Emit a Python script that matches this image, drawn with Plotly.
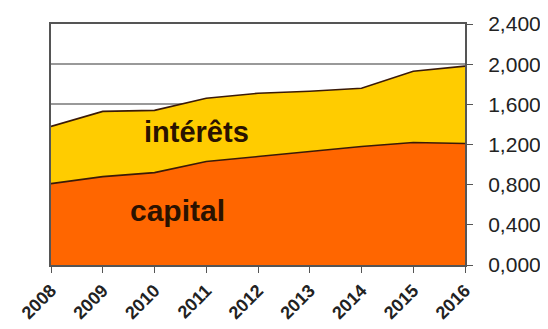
import plotly.graph_objects as go

years = ["2008", "2009", "2010", "2011", "2012", "2013", "2014", "2015", "2016"]
capital = [0.81, 0.88, 0.92, 1.03, 1.08, 1.13, 1.18, 1.22, 1.21]
interets = [0.57, 0.65, 0.62, 0.63, 0.63, 0.60, 0.58, 0.71, 0.77]
y_ticks = [0, 0.4, 0.8, 1.2, 1.6, 2.0, 2.4]
y_labels = ["0,000", "0,400", "0,800", "1,200", "1,600", "2,000", "2,400"]

fig = go.Figure()
fig.add_trace(go.Scatter(x=years, y=capital, stackgroup="s", mode="lines",
                         line=dict(color="#3a1a08", width=1.6),
                         fillcolor="#FF6600", name="capital"))
fig.add_trace(go.Scatter(x=years, y=interets, stackgroup="s", mode="lines",
                         line=dict(color="#3a1a08", width=1.6),
                         fillcolor="#FFCC00", name="intérêts"))

fig.add_annotation(x=2.82, y=1.32, xref="x", yref="y", text="<b>intérêts</b>",
                   showarrow=False, font=dict(family="Liberation Sans, Arial", size=29, color="#2a1200"))
fig.add_annotation(x=2.45, y=0.54, xref="x", yref="y", text="<b>capital</b>",
                   showarrow=False, font=dict(family="Liberation Sans, Arial", size=30, color="#2a1200"))

# page has an 8px body margin, so the figure is offset by 8px
fig.update_layout(
    width=540, height=321,
    margin=dict(l=43, r=83, t=16, b=64),
    paper_bgcolor="white", plot_bgcolor="white",
    showlegend=False,
    font=dict(family="Liberation Sans, Arial", color="#222"),
)
fig.update_xaxes(
    type="category", range=[0, 8], tickangle=-45, automargin=False,
    tickfont=dict(size=18, family="Liberation Sans, Arial", color="#222", weight="bold"),
    ticks="outside", ticklen=6, tickcolor="#555",
    showline=True, linecolor="#555", linewidth=2, mirror=True,
    showgrid=False, zeroline=False,
)
fig.update_yaxes(
    side="right", range=[0, 2.4], tickvals=y_ticks, ticktext=y_labels, automargin=False,
    tickfont=dict(size=21, color="#222"),
    ticks="outside", ticklen=6, tickcolor="#555", ticklabelstandoff=11,
    showline=True, linecolor="#555", linewidth=2, mirror=True,
    showgrid=True, gridcolor="#999", gridwidth=1.5, zeroline=False,
)

fig.write_html("out.html")
